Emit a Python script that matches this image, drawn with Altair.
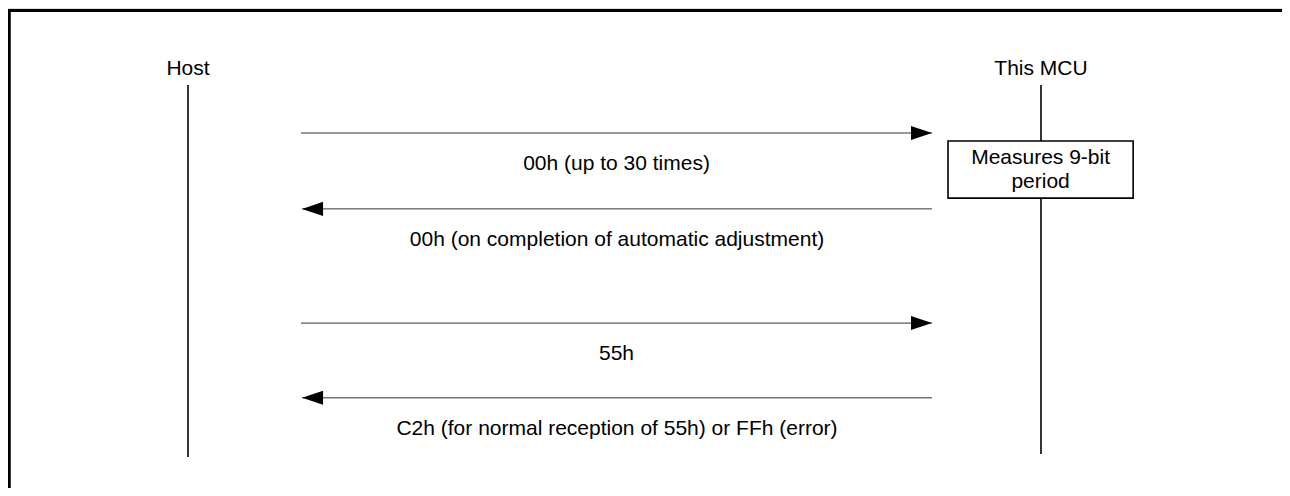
import altair as alt
import pandas as pd

# Participants (lifelines)
participants = ["Host", "This MCU"]
lane_pos = [0.0, 1.0]            # lane position (0 = Host, 1 = This MCU)
lifeline_start = [0.0, 0.0]      # time units
lifeline_end = [100.0, 99.2]

# Messages
msg_labels = [
    "00h (up to 30 times)",
    "00h (on completion of automatic adjustment)",
    "55h",
    "C2h (for normal reception of 55h) or FFh (error)",
]
msg_time = [12.9, 33.3, 64.0, 84.1]
msg_from = [0.1325, 0.8722, 0.1325, 0.8722]
msg_to = [0.8722, 0.1337, 0.8722, 0.1337]

# Note box on the MCU lifeline
note_lines = ["Measures 9-bit", "period"]
note_x = [0.891, 1.108]
note_t = [15.05, 30.4]

FONT = "Liberation Sans"
FS = 21
W, H = 1274, 480

parts_df = pd.DataFrame({"name": participants, "lane": lane_pos,
                         "t0": lifeline_start, "t1": lifeline_end})
msg_df = pd.DataFrame({"label": msg_labels, "t": msg_time,
                       "src": msg_from, "dst": msg_to})
msg_df["mid"] = (pd.Series(msg_from) + pd.Series(msg_to)) / 2
note_df = pd.DataFrame({"x0": [note_x[0]], "x1": [note_x[1]],
                        "t0": [note_t[0]], "t1": [note_t[1]]})
note_df["xm"] = (note_df["x0"] + note_df["x1"]) / 2
note_df["tm"] = (note_df["t0"] + note_df["t1"]) / 2
note_df["text"] = [note_lines]

XS = alt.Scale(domain=[0, 1], range=[180, 1033], zero=False, nice=False)
YS = alt.Scale(domain=[0, 100], range=[77, 449], zero=False, nice=False)


def X(f):
    return alt.X(f, type="quantitative", scale=XS, axis=None)


def Y(f):
    return alt.Y(f, type="quantitative", scale=YS, axis=None)


frame_top = alt.Chart(parts_df).mark_rule(color="black", strokeWidth=3, strokeCap="square").encode(
    x=alt.value(0), x2=alt.value(W + 20), y=alt.value(2.5))
frame_left = alt.Chart(parts_df).mark_rule(color="black", strokeWidth=3).encode(
    x=alt.value(1), y=alt.value(1), y2=alt.value(H + 20))

lifelines = alt.Chart(parts_df).mark_rule(color="black", strokeWidth=1.6).encode(
    x=X("lane"), y=Y("t0"), y2="t1")
part_labels = alt.Chart(parts_df).mark_text(
    font=FONT, fontSize=FS, baseline="alphabetic", dy=-10, color="black").encode(
    x=X("lane"), y=Y("t0"), text="name:N")

arrows = alt.Chart(msg_df).mark_rule(color="#333333", strokeWidth=1).encode(
    x=X("src"), x2="dst", y=Y("t"))

right_head = alt.Chart(msg_df).transform_filter("datum.dst > datum.src").mark_point(
    shape="M0,0L-2,-0.667L-2,0.667Z", size=441, filled=True, color="black",
    opacity=1, strokeWidth=0).encode(x=X("dst"), y=Y("t"))
left_head = alt.Chart(msg_df).transform_filter("datum.dst < datum.src").mark_point(
    shape="M0,0L2,-0.667L2,0.667Z", size=441, filled=True, color="black",
    opacity=1, strokeWidth=0).encode(x=X("dst"), y=Y("t"))

msg_text = alt.Chart(msg_df).mark_text(
    font=FONT, fontSize=FS, baseline="middle", dy=31, color="black").encode(
    x=X("mid"), y=Y("t"), text="label:N")

note_box = alt.Chart(note_df).mark_rect(fill="white", stroke="black", strokeWidth=1.6).encode(
    x=X("x0"), x2="x1", y=Y("t0"), y2="t1")
note_label = alt.Chart(note_df).mark_text(
    font=FONT, fontSize=FS, baseline="middle", lineHeight=24, dy=-12,
    color="black").encode(x=X("xm"), y=Y("tm"), text="text")

chart = alt.layer(
    frame_top, frame_left, lifelines, part_labels, arrows, right_head, left_head,
    msg_text, note_box, note_label
).properties(
    width=W, height=H, autosize=alt.AutoSizeParams(type="none"), padding=0
).configure_view(stroke=None).configure(background="white")

chart.save("out.html", embed_options={"renderer": "svg", "actions": False})
